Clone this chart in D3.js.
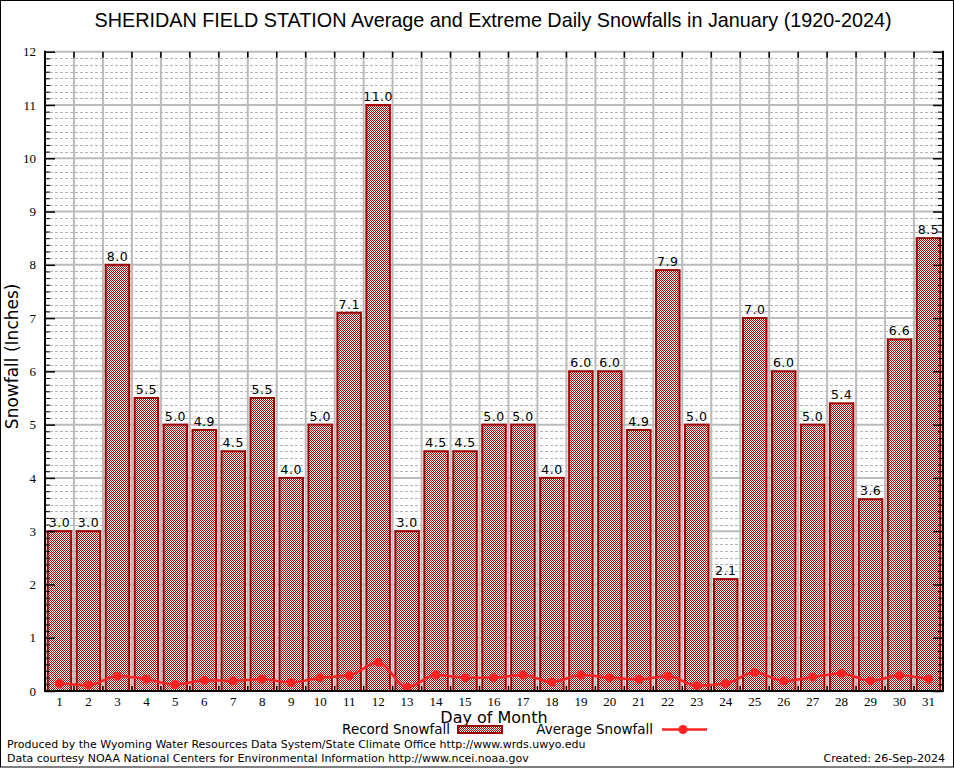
<!DOCTYPE html>
<html>
<head>
<meta charset="utf-8">
<script src="https://cdn.jsdelivr.net/npm/d3@7"></script>
<style>
  body { margin: 0; background: #fff; }
  svg { display: block; }
</style>
</head>
<body>
<svg id="chart" width="954" height="768"></svg>
<script>
// days of January
const days = d3.range(1, 32);

// record daily snowfall (inches)
const recordSnow = [3.0, 3.0, 8.0, 5.5, 5.0, 4.9, 4.5, 5.5, 4.0, 5.0, 7.1, 11.0, 3.0, 4.5, 4.5, 5.0,
  5.0, 4.0, 6.0, 6.0, 4.9, 7.9, 5.0, 2.1, 7.0, 6.0, 5.0, 5.4, 3.6, 6.6, 8.5];

// average daily snowfall (inches)
const avgSnow = [0.14, 0.11, 0.28, 0.22, 0.12, 0.20, 0.19, 0.22, 0.16, 0.25, 0.29, 0.54, 0.07, 0.30, 0.25, 0.25,
  0.30, 0.17, 0.30, 0.25, 0.22, 0.28, 0.10, 0.14, 0.35, 0.19, 0.26, 0.33, 0.19, 0.29, 0.22];

const yTicks = d3.range(0, 13);

const svg = d3.select("#chart");
const W = 954, H = 768;
const mLeft = 45, mRight = 943, mTop = 51.7, mBottom = 691;

const x = d3.scaleBand().domain(days).range([mLeft, mRight]).paddingInner(0.12).paddingOuter(0.06);
const y = d3.scaleLinear().domain([0, 12]).range([mBottom, mTop]);

// checker pattern for bars
const defs = svg.append("defs");
const pat = defs.append("pattern")
  .attr("id", "checker")
  .attr("width", 2).attr("height", 2)
  .attr("patternUnits", "userSpaceOnUse");
pat.append("rect").attr("width", 2).attr("height", 2).attr("fill", "#fff");
pat.append("rect").attr("width", 1).attr("height", 1).attr("fill", "#b00000").attr("shape-rendering", "crispEdges");
pat.append("rect").attr("x", 1).attr("y", 1).attr("width", 1).attr("height", 1).attr("fill", "#b00000").attr("shape-rendering", "crispEdges");

// outer frame
svg.append("rect")
  .attr("x", 0.5).attr("y", 0.5).attr("width", W - 1).attr("height", H - 1.5)
  .attr("fill", "#fff").attr("stroke", "#000");

// minor grid
const minor = d3.range(0, 12.001, 0.125).filter(v => Math.abs(v - Math.round(v)) > 1e-6);
svg.append("g").selectAll("line").data(minor).join("line")
  .attr("x1", mLeft).attr("x2", mRight)
  .attr("y1", d => Math.round(y(d)) + 0.5).attr("y2", d => Math.round(y(d)) + 0.5)
  .attr("stroke", "#b4b4b4").attr("stroke-width", 1).attr("stroke-dasharray", "3,2");

// major grid
svg.append("g").selectAll("line").data(yTicks).join("line")
  .attr("x1", mLeft).attr("x2", mRight)
  .attr("y1", d => y(d)).attr("y2", d => y(d))
  .attr("stroke", "#bbb").attr("stroke-width", 2);

// vertical grid at day boundaries
const step = (mRight - mLeft) / days.length;
const bounds = d3.range(1, days.length).map(i => mLeft + i * step);
svg.append("g").selectAll("line").data(bounds).join("line")
  .attr("x1", d => d).attr("x2", d => d)
  .attr("y1", mTop).attr("y2", mBottom)
  .attr("stroke", "#bbb").attr("stroke-width", 2);

// top and bottom ticks at boundaries
svg.append("g").selectAll("line").data(bounds).join("line")
  .attr("x1", d => d).attr("x2", d => d)
  .attr("y1", mTop).attr("y2", mTop + 6)
  .attr("stroke", "#000").attr("stroke-width", 1.5);
svg.append("g").selectAll("line").data(bounds).join("line")
  .attr("x1", d => d).attr("x2", d => d)
  .attr("y1", mBottom).attr("y2", mBottom - 5)
  .attr("stroke", "#000").attr("stroke-width", 1.5);

// bars
svg.append("g").selectAll("rect").data(days).join("rect")
  .attr("x", d => x(d) + 1)
  .attr("y", d => y(recordSnow[d - 1]))
  .attr("width", x.bandwidth() - 2)
  .attr("height", d => mBottom - y(recordSnow[d - 1]))
  .attr("fill", "url(#checker)")
  .attr("stroke", "#a00000").attr("stroke-width", 2);

// bar value labels
svg.append("g").selectAll("text").data(days).join("text")
  .attr("x", d => x(d) + x.bandwidth() / 2)
  .attr("y", d => y(recordSnow[d - 1]) - 4)
  .attr("text-anchor", "middle")
  .style("font-family", "DejaVu Sans, sans-serif")
  .style("font-size", "12.5px")
  .style("letter-spacing", "0.5px")
  .text(d => recordSnow[d - 1].toFixed(1));

// average line
const line = d3.line()
  .x(d => x(d) + x.bandwidth() / 2)
  .y(d => y(avgSnow[d - 1]))
  .curve(d3.curveMonotoneX);
svg.append("path").datum(days)
  .attr("d", line)
  .attr("fill", "none").attr("stroke", "#ff2222").attr("stroke-width", 2.5);
svg.append("g").selectAll("circle").data(days).join("circle")
  .attr("cx", d => x(d) + x.bandwidth() / 2)
  .attr("cy", d => y(avgSnow[d - 1]))
  .attr("r", 4.5)
  .attr("fill", "#ff2222");

// axes
const yAxisL = d3.axisLeft(y).tickValues(minor).tickSize(-5).tickFormat("");
svg.append("g").attr("transform", `translate(${mLeft},0)`).call(yAxisL)
  .call(g => g.select(".domain").remove())
  .selectAll("line").attr("stroke", "#000");
const yAxisR = d3.axisRight(y).tickValues(minor).tickSize(-5).tickFormat("");
svg.append("g").attr("transform", `translate(${mRight},0)`).call(yAxisR)
  .call(g => g.select(".domain").remove())
  .selectAll("line").attr("stroke", "#000");

const yMajL = d3.axisLeft(y).tickValues(yTicks).tickSize(-10).tickPadding(9);
svg.append("g").attr("transform", `translate(${mLeft},0)`).call(yMajL)
  .call(g => g.select(".domain").remove())
  .call(g => g.selectAll("line").attr("stroke", "#000").attr("stroke-width", 1.5))
  .call(g => g.selectAll("text")
    .style("font-family", "Liberation Serif, serif").style("font-size", "13px").attr("fill", "#000"));
const yMajR = d3.axisRight(y).tickValues(yTicks).tickSize(-10).tickFormat("");
svg.append("g").attr("transform", `translate(${mRight},0)`).call(yMajR)
  .call(g => g.select(".domain").remove())
  .selectAll("line").attr("stroke", "#000").attr("stroke-width", 1.5);

const xAxis = d3.axisBottom(x).tickSize(0).tickPadding(6);
svg.append("g").attr("transform", `translate(0,${mBottom})`).call(xAxis)
  .call(g => g.select(".domain").remove())
  .selectAll("text")
  .style("font-family", "Liberation Serif, serif").style("font-size", "13px").attr("fill", "#000");

// plot frame: black left, right, bottom
svg.append("line").attr("x1", mLeft).attr("x2", mLeft).attr("y1", mTop - 1).attr("y2", mBottom + 1)
  .attr("stroke", "#000").attr("stroke-width", 2);
svg.append("line").attr("x1", mRight).attr("x2", mRight).attr("y1", mTop - 1).attr("y2", mBottom + 1)
  .attr("stroke", "#000").attr("stroke-width", 2);
svg.append("line").attr("x1", mLeft).attr("x2", mRight).attr("y1", mBottom).attr("y2", mBottom)
  .attr("stroke", "#000").attr("stroke-width", 2);

// title
svg.append("text")
  .attr("x", 493).attr("y", 27)
  .attr("text-anchor", "middle")
  .style("font-family", "Liberation Sans, Arial, sans-serif")
  .style("font-size", "19.8px")
  .text("SHERIDAN FIELD STATION Average and Extreme Daily Snowfalls in January (1920-2024)");

// axis titles
svg.append("text")
  .attr("transform", `translate(18,${(mTop + mBottom) / 2 - 15}) rotate(-90)`)
  .attr("text-anchor", "middle")
  .style("font-family", "DejaVu Sans, sans-serif")
  .style("font-size", "17px")
  .text("Snowfall (Inches)");
svg.append("text")
  .attr("x", 494).attr("y", 723)
  .attr("text-anchor", "middle")
  .style("font-family", "DejaVu Sans, sans-serif")
  .style("font-size", "16px")
  .text("Day of Month");

// legend
const leg = svg.append("g").style("font-family", "DejaVu Sans, sans-serif").style("font-size", "13.5px");
leg.append("text").attr("x", 450).attr("y", 734).attr("text-anchor", "end").text("Record Snowfall");
leg.append("rect").attr("x", 458).attr("y", 726).attr("width", 44).attr("height", 7)
  .attr("fill", "url(#checker)").attr("stroke", "#a00000").attr("stroke-width", 2);
leg.append("text").attr("x", 653).attr("y", 734).attr("text-anchor", "end").text("Average Snowfall");
leg.append("line").attr("x1", 662).attr("x2", 707).attr("y1", 729.5).attr("y2", 729.5)
  .attr("stroke", "#ff2222").attr("stroke-width", 2.5);
leg.append("circle").attr("cx", 683).attr("cy", 729.5).attr("r", 4.5).attr("fill", "#ff2222");

// footer
const foot = svg.append("g").style("font-family", "DejaVu Sans, sans-serif").style("font-size", "11px");
foot.append("text").attr("x", 7).attr("y", 748)
  .text("Produced by the Wyoming Water Resources Data System/State Climate Office http://www.wrds.uwyo.edu");
foot.append("text").attr("x", 7).attr("y", 762)
  .text("Data courtesy NOAA National Centers for Environmental Information http://www.ncei.noaa.gov");
foot.append("text").attr("x", 945).attr("y", 762).attr("text-anchor", "end")
  .text("Created: 26-Sep-2024");
</script>
</body>
</html>
